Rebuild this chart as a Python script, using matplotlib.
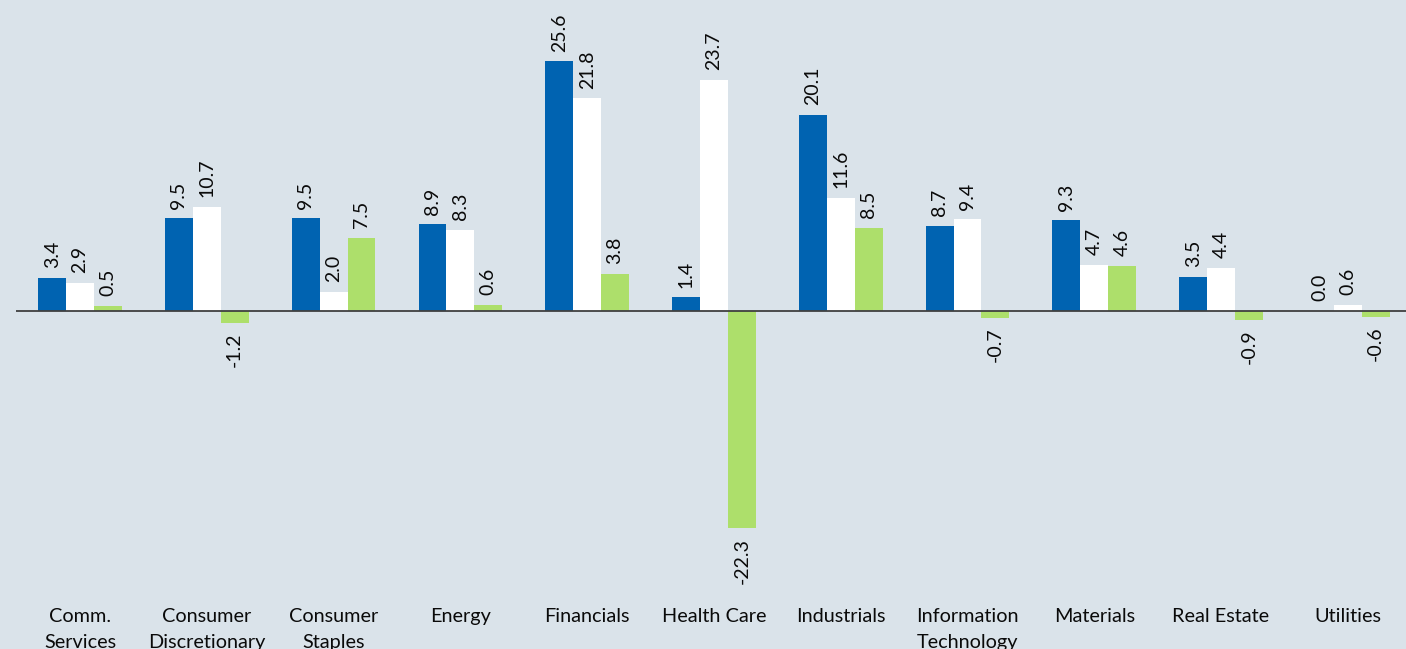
import matplotlib
matplotlib.use("Agg")
import matplotlib.pyplot as plt
import numpy as np

# Sector data, three series per sector
sectors = ["Comm.\nServices", "Consumer\nDiscretionary", "Consumer\nStaples", "Energy",
           "Financials", "Health Care", "Industrials", "Information\nTechnology",
           "Materials", "Real Estate", "Utilities"]
series_blue = [3.4, 9.5, 9.5, 8.9, 25.6, 1.4, 20.1, 8.7, 9.3, 3.5, 0.0]
series_white = [2.9, 10.7, 2.0, 8.3, 21.8, 23.7, 11.6, 9.4, 4.7, 4.4, 0.6]
series_green = [0.5, -1.2, 7.5, 0.6, 3.8, -22.3, 8.5, -0.7, 4.6, -0.9, -0.6]

bg = "#dae3ea"
plt.rcParams['font.family'] = ['Lato', 'DejaVu Sans']

fig = plt.figure(figsize=(14.06, 6.49), dpi=100, facecolor=bg)
ax = fig.add_axes([16 / 1406, 49 / 649, 1.0, 600 / 649])
ax.set_facecolor(bg)

x = np.arange(len(sectors))
w = 0.22
colors = ["#0063b1", "#ffffff", "#addf6b"]
for k, (vals, c) in enumerate(zip([series_blue, series_white, series_green], colors)):
    bars = ax.bar(x + (k - 1) * w, vals, width=w, color=c, edgecolor="none", zorder=2)
    ax.bar_label(bars, fmt="%.1f", rotation=90, padding=7, fontsize=14, color="#0a0a0a")

ax.axhline(0, color="#404040", linewidth=1.3, zorder=3)

ax.set_xlim(-0.505, 10.585)
ax.set_ylim(-29.64, 31.9)
ax.set_xticks(x)
ax.set_xticklabels(sectors, fontsize=14.3, color="#0a0a0a", linespacing=1.6)
ax.tick_params(axis="x", length=0, pad=6)
ax.set_yticks([])
for s in ax.spines.values():
    s.set_visible(False)

fig.savefig("out.png", dpi=100, facecolor=bg)
